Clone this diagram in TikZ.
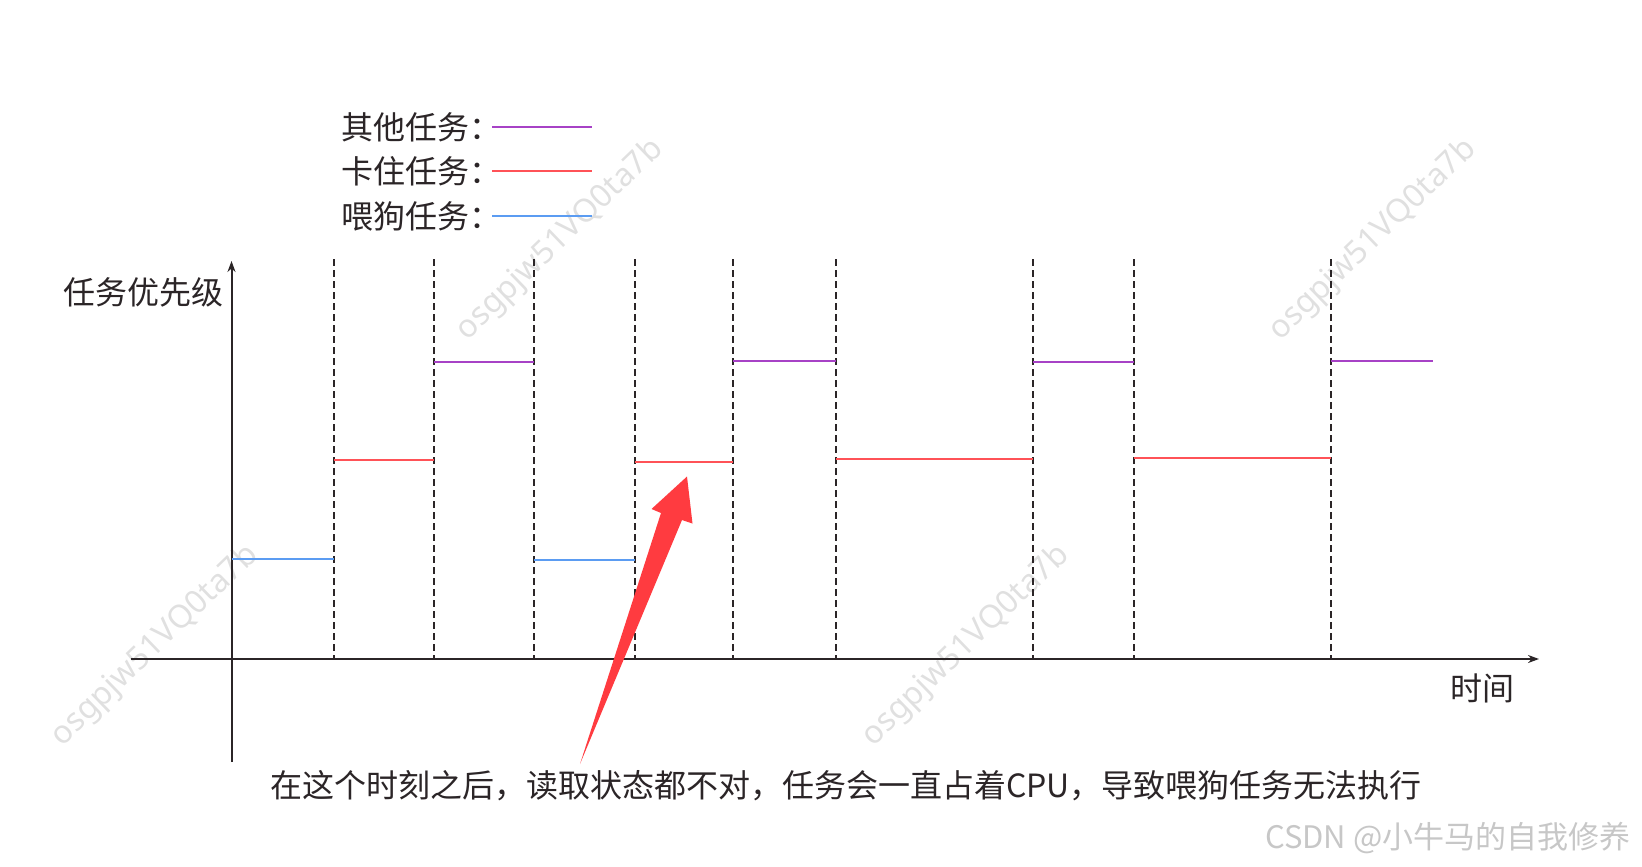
\documentclass[tikz,border=0pt]{standalone}
\usepackage{fontspec}
\setmainfont{Noto Sans CJK SC}
\newfontfamily\wmfont{Noto Sans}
\usetikzlibrary{arrows.meta}
\definecolor{ink}{HTML}{2B2527}
\definecolor{cpurple}{HTML}{A742C6}
\definecolor{cred}{HTML}{FF5257}
\definecolor{cblue}{HTML}{5B9CF2}
\definecolor{carrow}{HTML}{FF3B40}
\definecolor{wm}{HTML}{E0E0E0}
\tikzset{
  lbl/.style={font=\fontsize{32}{36}\selectfont, text=ink, inner sep=0pt, anchor=west},
  axisline/.style={draw=ink, line width=2pt, -{Stealth[length=11pt,width=8pt]}},
  divider/.style={draw=ink, line width=2.2pt, dash pattern=on 6.5pt off 4.5pt},
  lvl/.style={line width=2.5pt},
  wmark/.style={font=\wmfont\fontsize{32}{34}\selectfont, text=wm, rotate=44, inner sep=0pt},
}
\begin{document}
\begin{tikzpicture}[x=1pt,y=-1pt]
\useasboundingbox (0,0) rectangle (1642,867);
% watermarks
\node[wmark] (wm1) at (560,240) {osgpjw51VQ0ta7b};
\node[wmark] (wm2) at (1373,240) {osgpjw51VQ0ta7b};
\node[wmark] (wm3) at (155,646) {osgpjw51VQ0ta7b};
\node[wmark] (wm4) at (966,646) {osgpjw51VQ0ta7b};
% legend
\node[lbl] (l1) at (341,127) {其他任务：};
\node[lbl] (l2) at (341,171) {卡住任务：};
\node[lbl] (l3) at (341,216) {喂狗任务：};
\coordinate (p1a) at (492,127); \coordinate (p1b) at (592,127);
\coordinate (p2a) at (492,171); \coordinate (p2b) at (592,171);
\coordinate (p3a) at (492,216); \coordinate (p3b) at (592,216);
\draw[lvl, cpurple] (p1a) -- (p1b);
\draw[lvl, cred] (p2a) -- (p2b);
\draw[lvl, cblue] (p3a) -- (p3b);
% axes
\coordinate (ybot) at (231.5,762);
\coordinate (ytop) at (231.5,261);
\coordinate (xl) at (131,659);
\coordinate (xr) at (1539,659);
% dividers
\foreach \n/\x in {d1/334,d2/434,d3/534,d4/635,d5/733,d6/836,d7/1033,d8/1134,d9/1331}{
  \coordinate (\n t) at (\x,259);
  \coordinate (\n b) at (\x,659);
  \draw[divider] (\n t) -- (\n b);
}
\draw[axisline] (ybot) -- (ytop);
\draw[axisline] (xl) -- (xr);
% task levels
\draw[lvl, cblue]   (231.5,559) -- (334,559);
\draw[lvl, cred]    (334,460) -- (434,460);
\draw[lvl, cpurple] (434,362) -- (534,362);
\draw[lvl, cblue]   (534,560) -- (635,560);
\draw[lvl, cred]    (635,462) -- (733,462);
\draw[lvl, cpurple] (733,361) -- (836,361);
\draw[lvl, cred]    (836,459) -- (1033,459);
\draw[lvl, cpurple] (1033,362) -- (1134,362);
\draw[lvl, cred]    (1134,458) -- (1331,458);
\draw[lvl, cpurple] (1331,361) -- (1433,361);
% labels
\node[lbl] (ylab) at (63,292) {任务优先级};
\node[lbl] (xlab) at (1450,688) {时间};
\node[lbl] (note) at (270,786) {在这个时刻之后，读取状态都不对，任务会一直占着CPU，导致喂狗任务无法执行};
% red callout arrow
\fill[carrow] (580,764) -- (661,513) -- (651.5,509) -- (687,476.5) -- (692.5,523.5) -- (682,520) -- cycle;
% CSDN watermark
\node[lbl, text=black!22, font=\fontsize{31}{34}\selectfont] (csdn) at (1265,838) {CSDN @小牛马的自我修养};
\end{tikzpicture}
\end{document}
